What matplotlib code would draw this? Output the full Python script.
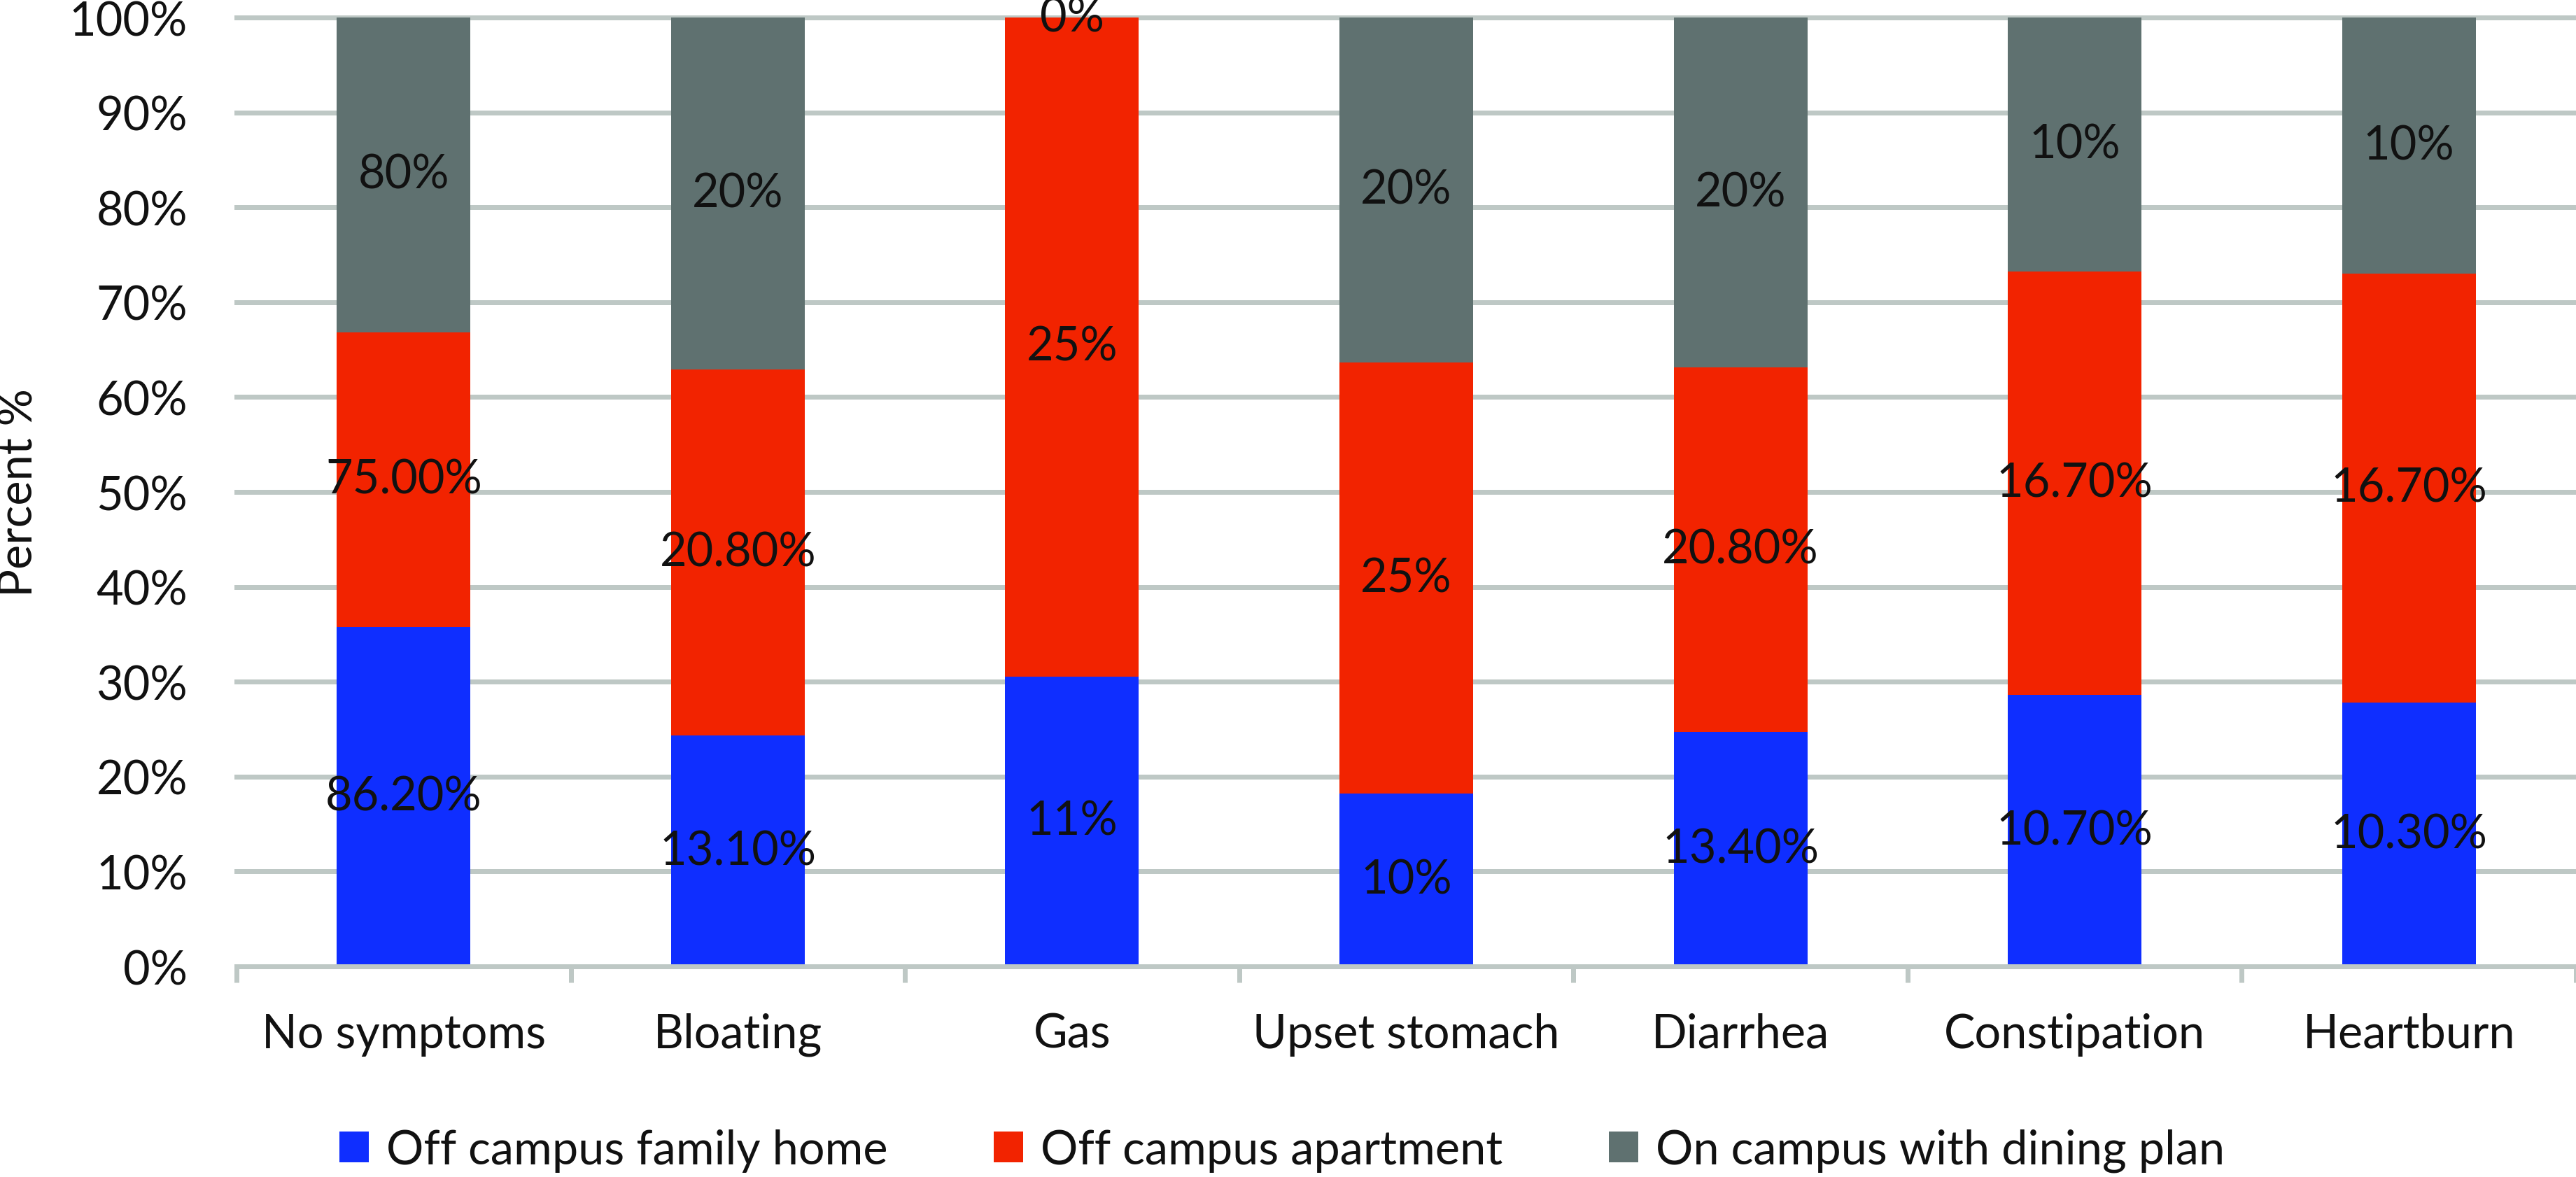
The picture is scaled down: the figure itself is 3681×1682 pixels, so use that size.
import matplotlib
matplotlib.use("Agg")
import matplotlib.pyplot as plt
import numpy as np

categories = ["No symptoms", "Bloating", "Gas", "Upset stomach", "Diarrhea", "Constipation", "Heartburn"]
series_names = ["Off campus family home", "Off campus apartment", "On campus with dining plan"]
family_home = [86.2, 13.1, 11, 10, 13.4, 10.7, 10.3]
apartment = [75.0, 20.8, 25, 25, 20.8, 16.7, 16.7]
dining_plan = [80, 20, 0, 20, 20, 10, 10]
family_home_labels = ["86.20%", "13.10%", "11%", "10%", "13.40%", "10.70%", "10.30%"]
apartment_labels = ["75.00%", "20.80%", "25%", "25%", "20.80%", "16.70%", "16.70%"]
dining_plan_labels = ["80%", "20%", "0%", "20%", "20%", "10%", "10%"]
yticks = [0, 10, 20, 30, 40, 50, 60, 70, 80, 90, 100]

colors = ["#0F2EFF", "#F22300", "#5F7170"]
grid_c = "#BEC8C5"
txt_c = "#111111"
FS = 24
plt.rcParams['font.family'] = ['Lato', 'DejaVu Sans']

DPI = 200
W, H = 3681, 1683
fig = plt.figure(figsize=(W / DPI, H / DPI), dpi=DPI)
ax = fig.add_axes([338 / W, 1 - 1382 / H, 1 - 338 / W, (1382 - 26) / H])

data = np.array([family_home, apartment, dining_plan], dtype=float)
totals = data.sum(axis=0)
shares = data / totals * 100
labels = [family_home_labels, apartment_labels, dining_plan_labels]
x = np.arange(len(categories))
bottom = np.zeros(len(categories))
for i in range(3):
    ax.bar(x, shares[i], 0.4, bottom=bottom, color=colors[i], label=series_names[i], zorder=3)
    for j in range(len(categories)):
        ax.text(x[j], bottom[j] + shares[i][j] / 2, labels[i][j], ha="center", va="center",
                fontsize=FS, color=txt_c, zorder=5)
    bottom += shares[i]

ax.set_xlim(-0.5, len(categories) - 0.5)
ax.set_ylim(0, 100)
ax.set_yticks(yticks)
ax.set_yticklabels([f"{v}%" for v in yticks])
lw = 7 * 72 / DPI
for v in yticks[1:]:
    ax.axhline(v, color=grid_c, lw=lw, zorder=1, clip_on=False)
for s in ["top", "right", "left"]:
    ax.spines[s].set_visible(False)
ax.spines["bottom"].set_color(grid_c)
ax.spines["bottom"].set_linewidth(lw)
ax.spines["bottom"].set_zorder(4)

ax.set_xticks(x)
ax.set_xticklabels(categories)
ax.set_xticks(np.arange(-0.5, len(categories), 1.0), minor=True)
ax.tick_params(axis="x", which="major", length=0, pad=66 * 72 / DPI, labelsize=FS, labelcolor=txt_c)
ax.tick_params(axis="x", which="minor", length=23 * 72 / DPI, width=lw, color=grid_c)
ax.tick_params(axis="y", length=0, pad=70 * 72 / DPI, labelsize=FS, labelcolor=txt_c)
fig.text(28 / W, 1 - 704 / H, "Percent %", rotation=90, ha="center", va="center",
         fontsize=FS, color=txt_c)

fig.legend(loc="center", bbox_to_anchor=(0.4977, 1 - 1645 / H), ncol=3, frameon=False,
           fontsize=FS, handlelength=0.63, handleheight=0.63, handletextpad=0.375,
           columnspacing=2.28, labelcolor=txt_c)

fig.savefig("out.png", dpi=DPI)
